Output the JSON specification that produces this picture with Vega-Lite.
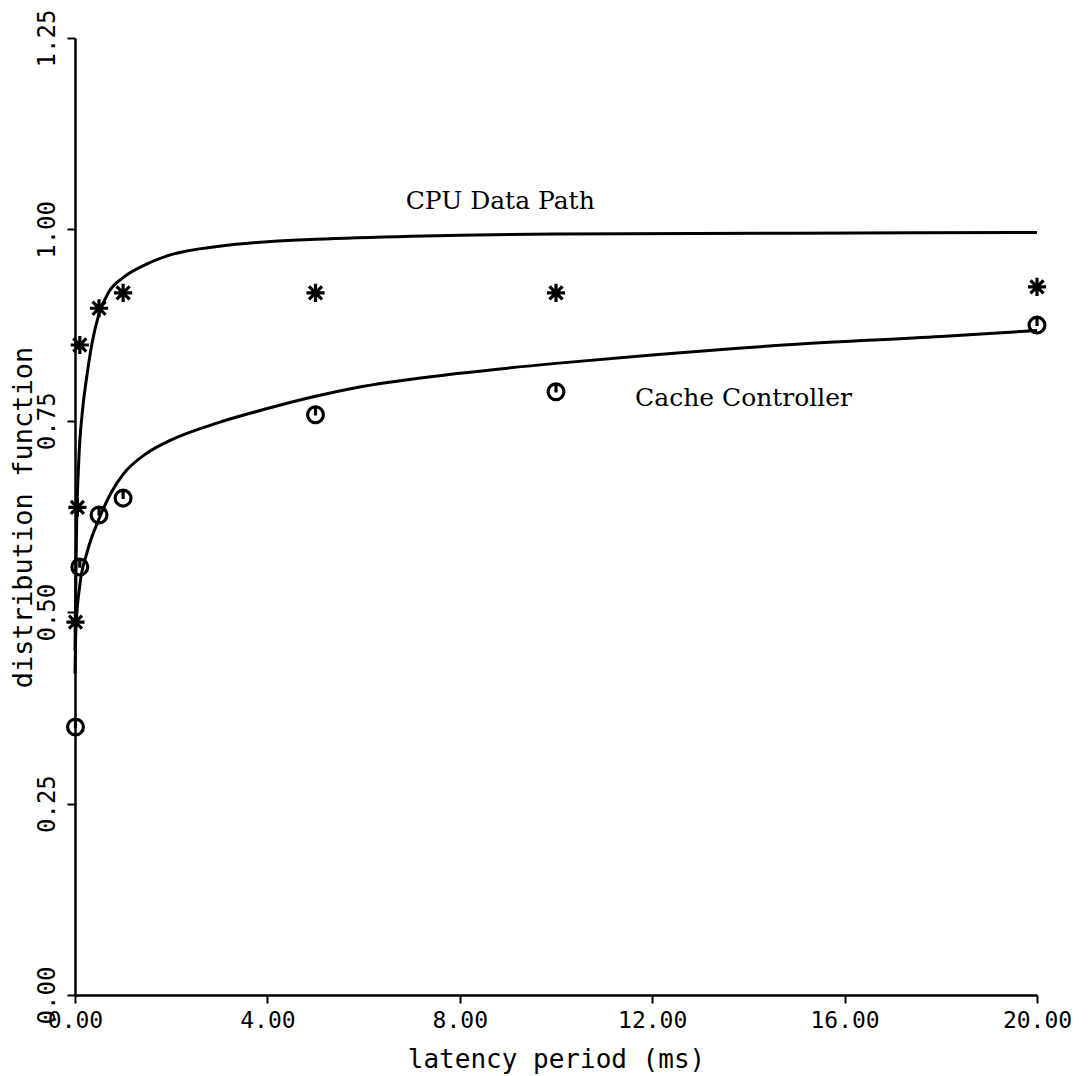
{
  "$schema": "https://vega.github.io/schema/vega-lite/v6.json",
  "width": 962,
  "height": 957,
  "autosize": {"type": "none"},
  "padding": {"left": 75, "top": 38, "right": 54, "bottom": 81},
  "background": "white",
  "config": {"view": {"stroke": null}},
  "datasets": {
    "curves": [
      {"series": "CPU Data Path", "x": 0, "y": 0.45},
      {"series": "CPU Data Path", "x": 0.03, "y": 0.6},
      {"series": "CPU Data Path", "x": 0.08, "y": 0.7},
      {"series": "CPU Data Path", "x": 0.15, "y": 0.76},
      {"series": "CPU Data Path", "x": 0.25, "y": 0.81},
      {"series": "CPU Data Path", "x": 0.35, "y": 0.85},
      {"series": "CPU Data Path", "x": 0.5, "y": 0.89},
      {"series": "CPU Data Path", "x": 0.7, "y": 0.918},
      {"series": "CPU Data Path", "x": 1, "y": 0.937},
      {"series": "CPU Data Path", "x": 1.5, "y": 0.955},
      {"series": "CPU Data Path", "x": 2, "y": 0.967},
      {"series": "CPU Data Path", "x": 3, "y": 0.978},
      {"series": "CPU Data Path", "x": 4, "y": 0.984},
      {"series": "CPU Data Path", "x": 5, "y": 0.987},
      {"series": "CPU Data Path", "x": 7, "y": 0.991},
      {"series": "CPU Data Path", "x": 10, "y": 0.994},
      {"series": "CPU Data Path", "x": 15, "y": 0.995},
      {"series": "CPU Data Path", "x": 20, "y": 0.996},
      {"series": "Cache Controller", "x": 0, "y": 0.42},
      {"series": "Cache Controller", "x": 0.02, "y": 0.48},
      {"series": "Cache Controller", "x": 0.1, "y": 0.535},
      {"series": "Cache Controller", "x": 0.25, "y": 0.578},
      {"series": "Cache Controller", "x": 0.5, "y": 0.622},
      {"series": "Cache Controller", "x": 0.75, "y": 0.656},
      {"series": "Cache Controller", "x": 1, "y": 0.68},
      {"series": "Cache Controller", "x": 1.5, "y": 0.708},
      {"series": "Cache Controller", "x": 2, "y": 0.725},
      {"series": "Cache Controller", "x": 3, "y": 0.748},
      {"series": "Cache Controller", "x": 4, "y": 0.766},
      {"series": "Cache Controller", "x": 5, "y": 0.782},
      {"series": "Cache Controller", "x": 6, "y": 0.795},
      {"series": "Cache Controller", "x": 8, "y": 0.812},
      {"series": "Cache Controller", "x": 10, "y": 0.825},
      {"series": "Cache Controller", "x": 12, "y": 0.836},
      {"series": "Cache Controller", "x": 15, "y": 0.85},
      {"series": "Cache Controller", "x": 18, "y": 0.86},
      {"series": "Cache Controller", "x": 20, "y": 0.868}
    ],
    "points": [
      {"series": "CPU Data Path", "x": 0.01, "y": 0.487},
      {"series": "CPU Data Path", "x": 0.05, "y": 0.637},
      {"series": "CPU Data Path", "x": 0.1, "y": 0.849},
      {"series": "CPU Data Path", "x": 0.5, "y": 0.897},
      {"series": "CPU Data Path", "x": 1, "y": 0.917},
      {"series": "CPU Data Path", "x": 5, "y": 0.917},
      {"series": "CPU Data Path", "x": 10, "y": 0.917},
      {"series": "CPU Data Path", "x": 20, "y": 0.925},
      {"series": "Cache Controller", "x": 0.01, "y": 0.35},
      {"series": "Cache Controller", "x": 0.1, "y": 0.559},
      {"series": "Cache Controller", "x": 0.5, "y": 0.627},
      {"series": "Cache Controller", "x": 1, "y": 0.649},
      {"series": "Cache Controller", "x": 5, "y": 0.758},
      {"series": "Cache Controller", "x": 10, "y": 0.788},
      {"series": "Cache Controller", "x": 20, "y": 0.875}
    ],
    "labels": [
      {"label": "CPU Data Path", "x": 8.84, "y": 1.037},
      {"label": "Cache Controller", "x": 13.9, "y": 0.78}
    ]
  },
  "encoding": {
    "x": {
      "field": "x", "type": "quantitative",
      "scale": {"domain": [0, 20], "nice": false, "zero": false},
      "axis": {
        "title": "latency period (ms)",
        "values": [0, 4, 8, 12, 16, 20],
        "format": ".2f",
        "grid": false,
        "domainColor": "black", "domainWidth": 2.5,
        "tickColor": "black", "tickWidth": 2, "tickSize": 8,
        "labelColor": "black", "labelFont": "DejaVu Sans Mono", "labelFontSize": 23,
        "labelPadding": 6, "labelFlush": false, "labelOverlap": false,
        "titleColor": "black", "titleFont": "DejaVu Sans Mono", "titleFontSize": 26, "titleFontWeight": "normal",
        "titleBaseline": "alphabetic", "titleY": 72
      }
    },
    "y": {
      "field": "y", "type": "quantitative",
      "scale": {"domain": [0, 1.25], "nice": false, "zero": false},
      "axis": {
        "title": "distribution function",
        "values": [0, 0.25, 0.5, 0.75, 1, 1.25],
        "format": ".2f",
        "grid": false,
        "domainColor": "black", "domainWidth": 2.5,
        "tickColor": "black", "tickWidth": 2, "tickSize": 8,
        "labelColor": "black", "labelFont": "DejaVu Sans Mono", "labelFontSize": 24,
        "labelAngle": 270, "labelAlign": "center", "labelBaseline": "bottom",
        "labelPadding": 8, "labelFlush": false, "labelOverlap": false,
        "titleColor": "black", "titleFont": "DejaVu Sans Mono", "titleFontSize": 27, "titleFontWeight": "normal",
        "titleAngle": 270, "titleAlign": "center", "titleBaseline": "middle",
        "titleX": -52, "titleY": 479
      }
    }
  },
  "layer": [
    {
      "data": {"name": "curves"},
      "mark": {"type": "line", "color": "black", "strokeWidth": 3, "interpolate": "monotone"},
      "encoding": {"detail": {"field": "series"}}
    },
    {
      "data": {"name": "points"},
      "mark": {"type": "point", "filled": false, "strokeWidth": 3.2, "color": "black", "opacity": 1},
      "encoding": {
        "shape": {
          "field": "series", "type": "nominal",
          "scale": {
            "domain": ["CPU Data Path", "Cache Controller"],
            "range": [
              "M-1,0L1,0M0,-1L0,1M-0.72,-0.72L0.72,0.72M-0.72,0.72L0.72,-0.72",
              "M0,-1A1,1 0 1,1 0,1A1,1 0 1,1 0,-1M0,-1L0,0.1"
            ]
          },
          "legend": null
        },
        "size": {
          "field": "series", "type": "nominal",
          "scale": {"domain": ["CPU Data Path", "Cache Controller"], "range": [330, 250]},
          "legend": null
        }
      }
    },
    {
      "data": {"name": "labels"},
      "mark": {"type": "text", "font": "DejaVu Serif", "fontSize": 25, "color": "black", "align": "center", "baseline": "middle"},
      "encoding": {"text": {"field": "label"}}
    }
  ]
}
